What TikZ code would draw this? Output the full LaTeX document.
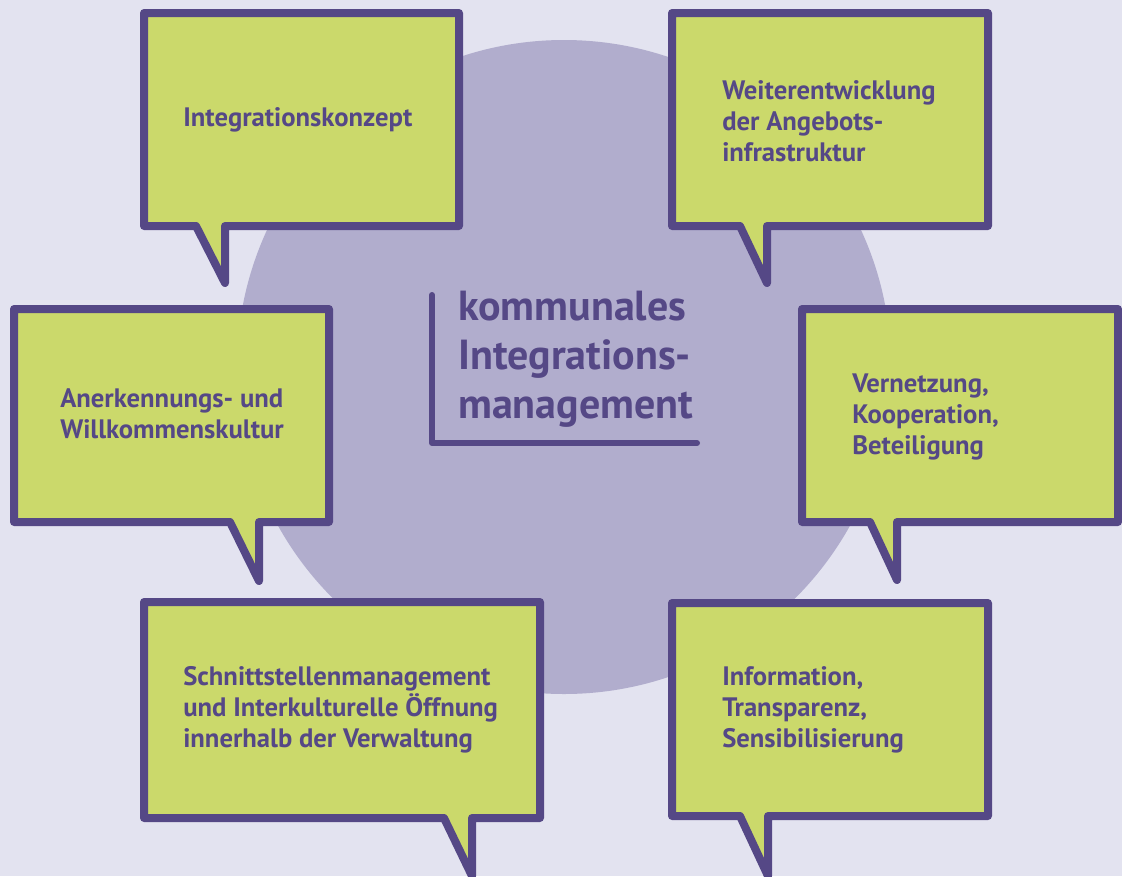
\documentclass[tikz,border=0pt]{standalone}
\usepackage{fontspec}
\setmainfont{PT Sans}
\usepackage{tikz}
\definecolor{bgcol}{HTML}{E3E3F0}
\definecolor{circlecol}{HTML}{B1ADCD}
\definecolor{boxgreen}{HTML}{CBD96B}
\definecolor{boxpurple}{HTML}{554886}

\begin{document}
\begin{tikzpicture}[line cap=round,line join=round,x=0.75pt,y=-0.75pt,
  bubble/.style={fill=boxgreen,draw=boxpurple,line width=6pt},
  boxtext/.style={anchor=base west,inner sep=0pt,align=left,text=boxpurple,
    font=\bfseries\fontsize{20}{23.25}\selectfont}]
\useasboundingbox (0,0) rectangle (1122,876);
\fill[bgcol] (0,0) rectangle (1122,876);
\fill[circlecol] (564,367) circle (327);
% centre
\draw[boxpurple,line width=4.5pt] (432,295) -- (432,443) -- (697,443);
\node[boxtext,font=\bfseries\fontsize{31.5}{36.4}\selectfont] (title) at (458,418)
  {kommunales\\Integrations-\\management};
% bubbles
\draw[bubble] (144,13) -- (459,13) -- (459,226) -- (225,226) -- (225,283) -- (196,226) -- (144,226) -- cycle;
\draw[bubble] (672,13) -- (988,13) -- (988,226) -- (767,226) -- (767,283) -- (740,226) -- (672,226) -- cycle;
\draw[bubble] (14,309) -- (329,309) -- (329,522) -- (259,522) -- (259,581) -- (230,522) -- (14,522) -- cycle;
\draw[bubble] (802,309) -- (1118,309) -- (1118,522) -- (897,522) -- (897,580) -- (870,522) -- (802,522) -- cycle;
\draw[bubble] (144,602) -- (540,602) -- (540,818) -- (472,818) -- (472,876) -- (444,818) -- (144,818) -- cycle;
\draw[bubble] (672,603) -- (988,603) -- (988,816) -- (768,816) -- (768,876) -- (740,816) -- (672,816) -- cycle;
% texts (anchored at the last baseline)
\node[boxtext] (konzept) at (183,126) {Integrationskonzept};
\node[boxtext] (angebot) at (722,161) {Weiterentwicklung\\der Angebots-\\infrastruktur};
\node[boxtext] (kultur) at (60,438) {Anerkennungs- und\\Willkommenskultur};
\node[boxtext] (netz) at (852,454) {Vernetzung,\\Kooperation,\\Beteiligung};
\node[boxtext] (schnitt) at (183,747) {Schnittstellenmanagement\\und Interkulturelle Öffnung\\innerhalb der Verwaltung};
\node[boxtext] (info) at (722,747) {Information,\\Transparenz,\\Sensibilisierung};
\end{tikzpicture}
\end{document}
